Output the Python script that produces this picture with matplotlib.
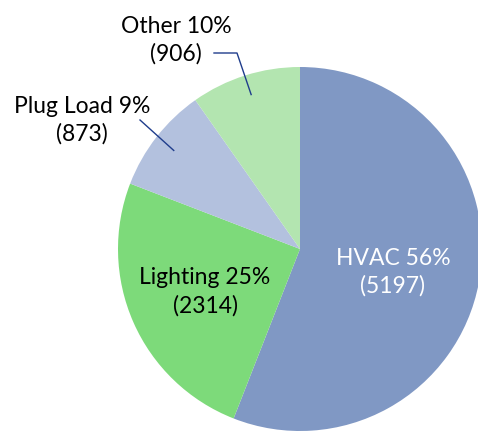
import numpy as np
import matplotlib
matplotlib.use("Agg")
import matplotlib.pyplot as plt

categories = ["HVAC", "Lighting", "Plug Load", "Other"]
values = [5197, 2314, 873, 906]
percents = [56, 25, 9, 10]
colors = ["#8098c4", "#7dda7a", "#b3c1de", "#b3e5b0"]
text_colors = ["white", "black", "black", "black"]

W, H = 478, 435
fig = plt.figure(figsize=(W / 100, H / 100), dpi=100)
ax = fig.add_axes([0, 0, 1, 1])

cx, cy, R = 300, H - 250, 182
wedges, _ = ax.pie(values, colors=colors, startangle=90, counterclock=False,
                   center=(cx, cy), radius=R, frame=True,
                   wedgeprops=dict(linewidth=0))
ax.set_xlim(0, W)
ax.set_ylim(0, H)
ax.set_aspect("equal")
ax.axis("off")

font = dict(family=["Lato", "DejaVu Sans"], fontsize=16.5, linespacing=1.35)

def pt(w, frac):
    a = np.deg2rad((w.theta1 + w.theta2) / 2)
    return cx + frac * R * np.cos(a), cy + frac * R * np.sin(a)

labels = [f"{c} {p}%\n({v})" for c, p, v in zip(categories, percents, values)]

# inside labels
x, y = pt(wedges[0], 0.52)
ax.text(x, y - 5, labels[0], ha="center", va="center", color=text_colors[0], **font)
x, y = pt(wedges[1], 0.57)
ax.text(x, y, labels[1], ha="center", va="center", color=text_colors[1], **font)

# outside labels with leader lines
lc = "#1f3d8c"
# Other
tx, ty = pt(wedges[3], 0.89)
ax.text(176, H - 40, labels[3], ha="center", va="center", color="black", **font)
ax.plot([214, 237, tx], [H - 54, H - 54, ty], color=lc, lw=1)
# Plug Load
tx, ty = pt(wedges[2], 0.88)
ax.text(82, H - 120, labels[2], ha="center", va="center", color="black", **font)
ax.plot([140, tx], [H - 121, ty], color=lc, lw=1)

fig.savefig("out.png", dpi=100)
